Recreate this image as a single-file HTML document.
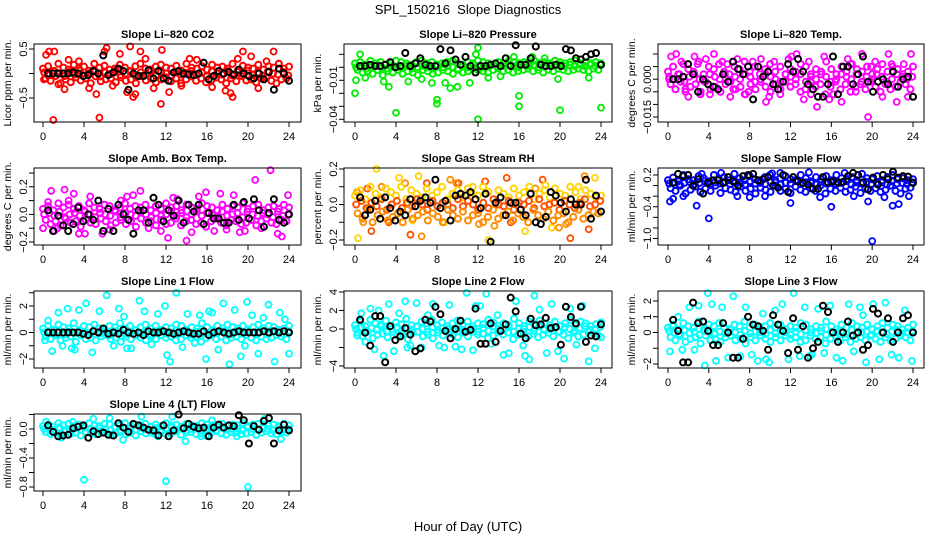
<!DOCTYPE html>
<html><head><meta charset="utf-8"><style>
html,body{margin:0;padding:0;background:#fff}
svg{display:block;font-family:"Liberation Sans",sans-serif}
</style></head><body>
<svg id="chart" width="936" height="540" viewBox="0 0 936 540" xmlns="http://www.w3.org/2000/svg">
<text x="468" y="14" font-size="13" text-anchor="middle">SPL_150216&#160; Slope Diagnostics</text>
<text x="468" y="531" font-size="13" text-anchor="middle">Hour of Day (UTC)</text>
</svg>
<script>
// ---------- DATA ----------
const xTicks = [0,4,8,12,16,20,24];

const co2Upper = [0.1,0.15,0.05,0.2,0.12,0.08,0.18,0.1,0.14,0.06,0.2,0.12,0.16,0.08,0.1,0.18,0.12,0.05,0.15,0.2,0.1,0.08,0.14,0.18,0.12,0.1,0.16,0.06,0.2,0.12,0.1,0.15,0.08,0.18,0.12,0.14,0.1,0.2,0.06,0.16,0.12,0.1,0.18,0.08,0.15,0.12,0.2,0.1,0.14];
const co2Mid = [0.02,-0.03,0.05,0,-0.05,0.03,-0.02,0.06,-0.04,0.01,0.04,-0.06,0.02,-0.01,0.05,-0.03,0,0.04,-0.05,0.02,-0.02,0.06,-0.04,0.03,0,-0.05,0.04,-0.02,0.01,0.05,-0.03,0.02,-0.06,0.04,0,-0.02,0.05,-0.04,0.03,-0.01,0.06,-0.03,0.02,-0.05,0.04,0,-0.02,0.03,-0.04];
const co2Lower = [-0.1,-0.15,-0.05,-0.2,-0.12,-0.18,-0.08,-0.14,-0.1,-0.2,-0.06,-0.16,-0.12,-0.1,-0.18,-0.08,-0.15,-0.12,-0.2,-0.05,-0.14,-0.1,-0.18,-0.12,-0.08,-0.16,-0.1,-0.2,-0.12,-0.06,-0.15,-0.1,-0.18,-0.14,-0.08,-0.12,-0.2,-0.1,-0.16,-0.05,-0.14,-0.12,-0.18,-0.1,-0.08,-0.15,-0.2,-0.12,-0.1];
const co2Black = [0,0,0,0,0,0.02,0,-0.05,-0.03,0.05,0,0.37,-0.03,0.02,0.1,0.05,-0.33,0,-0.05,-0.05,0.07,-0.1,0.05,-0.1,-0.15,0.02,0.05,0,-0.02,-0.03,0,0.22,-0.12,-0.05,0.05,0,0.03,-0.02,0.08,0,-0.05,-0.1,0,-0.12,0.03,-0.33,0.1,0,-0.15];
const co2OutH = [1,0.3,0.6,1.1,5.2,5.5,6.2,6,8.5,8.2,8.8,9,9.5,11.5,11.6,12.3,7.5,14.3,17.8,18.5,18.3,19.5,20.3,22.5,21,2.1,3.5,10,15,1.5,6.8,13.5,16.5,23,4.5,0.1,2.5,10.8,19,21.8];
const co2OutV = [-0.95,0.38,0.45,0.45,-0.42,-0.9,0.52,0.45,0.55,-0.38,-0.48,-0.42,0.45,-0.62,0.48,-0.38,0.4,0.3,-0.35,-0.48,-0.4,0.45,0.35,0.45,-0.3,-0.32,0.25,0.3,0.28,-0.22,-0.25,-0.25,-0.28,0.2,-0.3,-0.12,0.28,-0.3,0.3,0.25];

const presUpper = [0.003,0.004,0.002,0.005,0.003,0.004,0.002,0.003,0.005,0.004,0.003,0.002,0.004,0.005,0.003,0.004,0.002,0.003,0.004,0.005,0.003,0.002,0.004,0.003,0.005,0.004,0.003,0.002,0.004,0.003,0.005,0.004,0.003,0.004,0.002,0.005,0.003,0.004,0.003,0.005,0.004,0.003,0.004,0.005,0.003,0.004,0.003,0.004,0.003];
const presMid = [0,0.001,-0.001,0,0.001,0,-0.001,0.001,0,0,0.001,-0.001,0,0.001,0,-0.001,0.001,0,0.001,0,-0.001,0.001,0,0.002,0.001,0,0.001,0.002,0,0.001,0.002,0.001,0,0.002,0.001,0.002,0,0.001,0.002,0.001,0.002,0.001,0.002,0.001,0.002,0.001,0.002,0.001,0.002];
const presLower = [-0.002,-0.004,-0.003,-0.005,-0.002,-0.006,-0.003,-0.004,-0.002,-0.005,-0.003,-0.004,-0.006,-0.002,-0.003,-0.005,-0.004,-0.002,-0.003,-0.005,-0.002,-0.004,-0.003,-0.001,-0.002,-0.003,-0.004,-0.002,-0.001,-0.003,-0.002,-0.004,-0.003,-0.002,-0.001,-0.003,-0.002,-0.004,-0.002,-0.003,-0.001,-0.002,-0.003,-0.002,-0.001,-0.002,-0.003,-0.001,-0.002];
const presBlack = [0.001,0.001,0.002,0.001,0.001,0.002,0.004,0,0.001,0.011,0.001,0.003,0.007,0.002,0.001,0.001,0.014,0.003,0.013,0.006,0.002,0.008,0.001,-0.004,0.001,0.001,0.002,0.003,0.001,0.007,0.001,0.017,0.002,0.002,0.007,0.016,0.002,0.001,0.001,0.002,0.001,0.014,0.013,0.007,0.006,0.008,0.01,0.011,0.002];
const presOutH = [0,0.1,0.5,4,8,8,12,12,11.8,16,16,20,24,2.8,3.3,7.5,8.8,9.3,10,11.2,5.2,22.8,19.8,15.5,13,17.3,1,6.5,14.2,18.5];
const presOutV = [-0.02,-0.01,0.01,-0.035,-0.025,-0.028,-0.04,0.015,0.01,-0.022,-0.03,-0.033,-0.031,-0.011,-0.015,-0.012,-0.012,-0.016,-0.015,-0.012,-0.011,-0.008,-0.009,0.008,-0.008,0.008,-0.008,-0.009,-0.007,0.007];

const tempUpper = [0.003,0.005,0.002,0.006,0.004,0.003,0.007,0.002,0.005,0.004,0.006,0.003,0.002,0.005,0.004,0.007,0.003,0.005,0.002,0.004,0.006,0.003,0.005,0.002,0.004,0.003,0.006,0.005,0.002,0.004,0.003,0.007,0.004,0.002,0.005,0.003,0.006,0.004,0.003,0.005,0.002,0.004,0.006,0.003,0.005,0.004,0.002,0.003,0.005];
const tempMid = [0.001,0,0.002,-0.001,0.001,0.002,0,-0.001,0.002,0.001,0,0.002,-0.001,0.001,0,0.002,0.001,-0.001,0,0.002,0.001,0,-0.001,0.002,0.001,0,0.002,-0.001,0.001,0,0.002,0.001,-0.001,0,0.002,0.001,0,0.002,-0.001,0.001,0,0.002,0.001,-0.001,0,0.002,0.001,0,0.001];
const tempLower = [-0.002,-0.004,-0.001,-0.005,-0.003,-0.002,-0.006,-0.001,-0.004,-0.003,-0.005,-0.002,-0.001,-0.004,-0.003,-0.006,-0.002,-0.004,-0.001,-0.003,-0.005,-0.002,-0.004,-0.001,-0.003,-0.002,-0.005,-0.004,-0.001,-0.003,-0.002,-0.006,-0.003,-0.001,-0.004,-0.002,-0.005,-0.003,-0.002,-0.004,-0.001,-0.003,-0.005,-0.002,-0.004,-0.003,-0.001,-0.002,-0.004];
const tempBlack = [0,0,0.001,0.006,0.002,-0.005,0,-0.002,-0.003,-0.004,0.002,-0.001,0.007,0.004,0.002,0.005,-0.008,0.005,0.001,0.003,-0.002,-0.004,-0.001,0.006,0.003,0.008,0.003,-0.002,-0.004,-0.007,-0.007,-0.002,0.009,-0.006,0.005,0.005,-0.002,0.002,0.009,-0.001,-0.005,-0.001,0,-0.002,0.003,-0.003,0,0.001,-0.007];
const tempOutH = [0.3,0.8,1.3,2,2.6,3.2,3.7,4.5,5.3,6.1,6.8,7.5,8.3,9.1,9.6,10.4,11,11.8,12.6,13.3,14,14.6,15.3,16.2,17,17.6,18.4,19,19.6,20.3,21,21.6,22.4,23.1,23.8,0.1,1.7,4.1,5.8,7.9,9.9,12.1,13.8,15.8,17.9,19.9,21.9,23.5,2.9,6.4];
const tempOutV = [0.009,0.01,0.007,-0.007,0.009,-0.005,0.008,0.01,0.007,-0.007,0.008,-0.006,0.007,0.008,-0.009,0.007,-0.006,0.008,0.01,-0.008,-0.006,-0.011,0.009,-0.006,-0.009,0.008,-0.005,0.01,-0.015,0.007,-0.007,0.01,-0.009,0.006,0.01,0,-0.004,-0.006,0.006,-0.005,-0.007,0.009,0.007,-0.008,0.006,0.005,0.006,-0.007,0.006,-0.004];

const ambUpper = [0.04,0.06,0.03,0.08,0.05,0.07,0.04,0.06,0.03,0.08,0.05,0.04,0.07,0.06,0.03,0.05,0.08,0.04,0.06,0.05,0.07,0.03,0.06,0.04,0.08,0.05,0.06,0.03,0.07,0.05,0.04,0.08,0.06,0.05,0.03,0.07,0.04,0.06,0.05,0.08,0.04,0.06,0.07,0.03,0.05,0.06,0.04,0.07,0.05];
const ambMid = [0,0.01,-0.01,0.02,-0.02,0,0.01,-0.01,0.02,0,-0.02,0.01,0,-0.01,0.02,-0.02,0.01,0,-0.01,0.02,0,-0.02,0.01,-0.01,0,0.02,-0.01,0.01,-0.02,0,0.02,-0.01,0.01,0,-0.02,0.02,-0.01,0,0.01,-0.02,0.02,0,-0.01,0.01,0,-0.02,0.02,-0.01,0];
const ambLower = [-0.04,-0.07,-0.05,-0.08,-0.03,-0.06,-0.05,-0.09,-0.04,-0.06,-0.07,-0.03,-0.05,-0.08,-0.06,-0.04,-0.07,-0.05,-0.09,-0.03,-0.06,-0.05,-0.08,-0.04,-0.07,-0.06,-0.03,-0.08,-0.05,-0.04,-0.07,-0.06,-0.09,-0.05,-0.03,-0.06,-0.08,-0.04,-0.05,-0.07,-0.06,-0.04,-0.08,-0.05,-0.03,-0.06,-0.07,-0.04,-0.05];
const ambBlack = [0.03,-0.12,-0.01,-0.08,-0.12,-0.07,0.05,-0.05,0,-0.04,0.1,-0.12,0.04,-0.12,0.07,0,-0.04,-0.14,0.03,0.03,-0.06,0.12,0.07,-0.05,0.03,-0.01,0.1,-0.06,0.07,0.02,0.07,-0.07,0.01,-0.03,-0.03,-0.06,-0.06,0.07,-0.04,0.09,-0.03,0.11,0.03,-0.09,0.01,0.11,-0.04,-0.06,0];
const ambOutH = [0,0.5,0.8,1.1,2.1,2.5,3,3.5,4.6,5.8,7.6,8.2,8.8,9.5,10.3,11.5,12.2,12.7,14,14.5,15.2,15.9,16.7,17.3,17.9,18.6,19.2,20.7,21.3,22.2,22.9,23.3,23.9,1.4,6.5,13.1,19.7,4.1];
const ambOutV = [-0.1,0.09,0.17,-0.12,0.18,0.1,0.15,-0.14,0.13,-0.14,0.1,0.13,0.14,0.17,-0.1,-0.12,-0.17,0.12,-0.19,-0.13,0.13,0.16,-0.12,0.15,-0.11,0.14,-0.13,0.25,-0.1,0.32,-0.14,-0.16,0.14,-0.1,-0.11,0.11,-0.12,-0.14];

const rhUpper = [0.05,0.08,0.03,0.1,0.06,0.04,0.09,0.07,0.05,0.1,0.03,0.08,0.06,0.04,0.09,0.05,0.07,0.1,0.03,0.06,0.08,0.04,0.09,0.06,0.05,0.1,0.07,0.03,0.08,0.06,0.04,0.09,0.05,0.07,0.1,0.03,0.06,0.08,0.04,0.09,0.06,0.05,0.1,0.07,0.03,0.08,0.06,0.04,0.05];
const rhMid = [0,0.02,-0.02,0.01,-0.01,0.03,-0.03,0,0.02,-0.02,0.01,-0.01,0.03,0,-0.03,0.02,-0.01,0.01,0,-0.02,0.03,-0.01,0.02,0,-0.03,0.01,-0.02,0.03,0,-0.01,0.02,-0.03,0.01,0,0.02,-0.02,0.03,-0.01,0,0.01,-0.03,0.02,0,-0.02,0.01,0.03,-0.01,0,0.02];
const rhLower = [-0.05,-0.08,-0.03,-0.1,-0.06,-0.04,-0.09,-0.07,-0.05,-0.1,-0.03,-0.08,-0.06,-0.04,-0.09,-0.05,-0.07,-0.1,-0.03,-0.06,-0.08,-0.04,-0.09,-0.06,-0.05,-0.1,-0.07,-0.03,-0.08,-0.06,-0.04,-0.09,-0.05,-0.07,-0.1,-0.03,-0.06,-0.08,-0.04,-0.09,-0.06,-0.05,-0.1,-0.07,-0.03,-0.08,-0.06,-0.04,-0.05];
const rhBlack = [0.04,-0.06,-0.03,0.02,-0.08,0.04,-0.02,-0.09,-0.04,-0.06,0.03,-0.01,0.02,0.04,0.01,0.14,-0.02,0.02,-0.09,0.05,0.06,0.05,0.07,0.03,-0.02,0.06,-0.21,0.01,0.04,-0.06,0.01,0.01,-0.03,-0.06,0.06,-0.1,-0.11,-0.07,0.07,0.05,0.01,-0.04,0.03,0,0,0.14,-0.08,0.05,-0.04];
const rhOutH = [0.3,0.8,1.2,2.1,2.6,3.3,4.3,4.9,5.4,6.2,6.5,7,8.7,9.3,10.1,11.5,12.1,12.7,13,13.6,14.8,16.6,17.6,18.3,19.2,19.9,21,21.8,22.4,22.8,23.4,0.2,1.6,5.6,9.9,15.2,18.6,20.6];
const rhOutV = [-0.19,-0.1,0.09,0.2,0.1,-0.1,0.15,0.12,-0.17,0.16,-0.18,0.12,-0.1,0.14,0.12,0.1,-0.11,0.13,-0.2,-0.12,0.15,-0.15,0.09,0.14,-0.13,-0.13,-0.19,0.1,0.16,-0.14,0.15,0.07,-0.15,-0.09,0.12,-0.1,0.11,-0.11];

const flowUpper = [0.1,0.15,0.08,0.2,0.12,0.1,0.18,0.14,0.08,0.2,0.12,0.16,0.1,0.22,0.14,0.1,0.18,0.12,0.08,0.16,0.2,0.1,0.14,0.18,0.12,0.1,0.2,0.14,0.08,0.16,0.12,0.18,0.1,0.2,0.14,0.12,0.16,0.1,0.22,0.14,0.12,0.18,0.1,0.16,0.2,0.12,0.14,0.1,0.12];
const flowMid = [0.04,0.06,0.02,0.05,0.07,0.03,0.05,0.08,0.02,0.06,0.04,0.07,0.03,0.05,0.06,0.02,0.08,0.04,0.05,0.03,0.07,0.06,0.02,0.05,0.04,0.08,0.03,0.06,0.05,0.02,0.07,0.04,0.06,0.03,0.05,0.08,0.02,0.06,0.04,0.07,0.03,0.05,0.06,0.02,0.08,0.04,0.05,0.03,0.06];
const flowLower = [-0.05,-0.1,0,-0.15,-0.08,-0.02,-0.12,-0.06,-0.1,0,-0.14,-0.05,-0.08,-0.12,-0.02,-0.1,-0.06,-0.15,-0.04,-0.08,-0.12,0,-0.1,-0.06,-0.14,-0.02,-0.08,-0.12,-0.05,-0.1,0,-0.15,-0.06,-0.1,-0.04,-0.12,-0.08,-0.02,-0.14,-0.06,-0.1,-0.05,-0.12,-0.08,0,-0.1,-0.15,-0.06,-0.04];
const flowBlack = [0.05,0.22,0.18,0.2,0,0.12,-0.15,0.05,0.1,0.1,0.05,0.16,0.08,0,0.18,0.2,0.22,0.1,0.12,0.16,0,-0.04,0.2,-0.12,0.16,0.08,0.05,0.02,-0.06,-0.06,0.16,0.06,0.08,0.06,0.07,0.18,0.24,0.2,0.06,-0.07,0.15,0.02,0.2,0.12,0.26,0.15,0.18,0.17,0.05];
const flowOutH = [0.2,0.5,2.8,4,16,20,22,22.6,12,1.5,8,9.5,11,17.3,5.2,13.8,19.6,6.8,10.2,14.9,18.2,21.2,23.6,3.3];
const flowOutV = [-0.3,-0.25,-0.38,-0.62,-0.4,-1.05,-0.38,-0.35,-0.33,-0.2,-0.22,-0.2,0.24,0.24,0.24,0.25,-0.3,-0.2,0.23,-0.22,-0.2,-0.22,-0.2,0.22];

const l1Upper = [0.3,0.5,0.2,0.6,0.4,0.3,0.7,0.2,0.5,0.4,0.6,0.3,0.2,0.5,0.4,0.7,0.3,0.5,0.2,0.4,0.6,0.3,0.5,0.2,0.4,0.3,0.6,0.5,0.2,0.4,0.3,0.7,0.4,0.2,0.5,0.3,0.6,0.4,0.3,0.5,0.2,0.4,0.6,0.3,0.5,0.4,0.2,0.3,0.5];
const l1Mid = [0,0.1,-0.1,0.15,-0.15,0.05,-0.05,0.1,0,-0.1,0.15,-0.05,0.05,-0.15,0.1,0,-0.1,0.05,0.15,-0.05,0,-0.15,0.1,0.05,-0.1,0,0.15,-0.05,0.1,-0.15,0.05,0,-0.1,0.15,-0.05,0.1,0,-0.15,0.05,-0.1,0.15,0,-0.05,0.1,-0.15,0.05,0,-0.1,0.1];
const l1Lower = [-0.3,-0.5,-0.2,-0.6,-0.4,-0.3,-0.7,-0.2,-0.5,-0.4,-0.6,-0.3,-0.2,-0.5,-0.4,-0.7,-0.3,-0.5,-0.2,-0.4,-0.6,-0.3,-0.5,-0.2,-0.4,-0.3,-0.6,-0.5,-0.2,-0.4,-0.3,-0.7,-0.4,-0.2,-0.5,-0.3,-0.6,-0.4,-0.3,-0.5,-0.2,-0.4,-0.6,-0.3,-0.5,-0.4,-0.2,-0.3,-0.5];
const l1Black = [0,0,0,0,0,0,0,-0.1,-0.2,0.1,0,0.3,-0.1,0,-0.1,0.2,0,-0.1,0,-0.2,0.1,0,0,0.1,0,-0.1,0,0.1,0,-0.1,-0.1,0.1,-0.2,0,0.1,0,-0.1,0,0.1,0,0,0,0,0.1,0,0.1,0,0.1,0];
const l1OutH = [0.2,0.5,0.9,1.5,1.9,2.4,2.8,3.5,4.2,4.8,5.5,6.2,6.9,7.4,7.9,8.6,9.4,9.9,10.6,11.2,11.9,12.4,13,13.6,14.1,14.8,15.3,15.9,16.5,17.1,17.6,18.2,18.7,19.3,19.9,20.4,21,21.5,22,22.6,23.1,23.6,24,3.1,8.2,12.1,16.2,19.7];
const l1OutV = [-0.6,0.9,-1.4,1.5,-1,1.8,-1.2,1.7,2.2,-1.5,1.6,2.8,-1,1.8,1.2,-1.2,2.4,1.6,-0.9,1.4,2,-2.2,3,-1.1,1.4,-0.8,1.3,-2,1.5,-1.3,2.2,-2.4,1.7,-1.8,2.3,1.3,-1.6,1.1,2.1,-2.2,1.5,1,-1.6,-1.3,-1.2,-1.7,1.6,-1];

const l2Upper = [0.4,0.8,0.3,1,0.6,0.5,0.9,0.3,0.7,0.5,1.1,0.4,0.3,0.8,0.6,1,0.4,0.7,0.3,0.6,0.9,0.4,0.8,0.3,0.6,0.5,1,0.7,0.3,0.6,0.4,1.1,0.6,0.3,0.8,0.5,0.9,0.6,0.4,0.8,0.3,0.6,1,0.4,0.8,0.6,0.3,0.5,0.7];
const l2Mid = [0,0.2,-0.2,0.1,-0.1,0.3,-0.3,0,0.2,-0.2,0.1,-0.1,0.3,0,-0.3,0.2,-0.1,0.1,0,-0.2,0.3,-0.1,0.2,0,-0.3,0.1,-0.2,0.3,0,-0.1,0.2,-0.3,0.1,0,0.2,-0.2,0.3,-0.1,0,0.1,-0.3,0.2,0,-0.2,0.1,0.3,-0.1,0,0.2];
const l2Lower = [-0.4,-0.8,-0.3,-1,-0.6,-0.5,-0.9,-0.3,-0.7,-0.5,-1.1,-0.4,-0.3,-0.8,-0.6,-1,-0.4,-0.7,-0.3,-0.6,-0.9,-0.4,-0.8,-0.3,-0.6,-0.5,-1,-0.7,-0.3,-0.6,-0.4,-1.1,-0.6,-0.3,-0.8,-0.5,-0.9,-0.6,-0.4,-0.8,-0.3,-0.6,-1,-0.4,-0.8,-0.6,-0.3,-0.5,-0.7];
const l2Black = [1,-0.4,-1.8,1.4,1.4,-3.6,0.3,-1.2,-0.8,0.1,-0.6,-2.4,-2.1,1,0.8,2.4,1.6,-0.2,-1,0,0.9,-0.3,-0.1,2.2,-1.6,-1.6,0.6,-1.4,-0.2,0.5,3.4,1.9,-0.5,-1,1.1,0.4,0.5,1.2,0.1,0.2,-1.7,2.4,1.3,0.6,2.4,-1.4,-0.7,-0.8,0.5];
const l2OutH = [0.2,0.6,1,1.5,1.9,2.3,2.8,3.3,3.8,4.3,4.9,5.4,6,6.5,7.1,7.6,8.2,8.7,9.2,9.8,10.4,10.9,11.5,12.2,12.8,13.3,13.9,14.5,15,15.7,16.4,17,17.5,18,18.7,19.2,19.8,20.4,21,21.6,22.2,22.8,23.4,24,5.1,11.8,16.6];
const l2OutV = [-0.7,1.7,-1.4,2.2,-2.2,2,-2.9,2.7,-2.4,1.7,3,-1.8,2.8,-2,1.5,2.7,-1.8,-2,2.6,-1.9,-2.2,3.9,-2.3,2.5,3.8,-1.6,1.5,-2.8,-2.6,3,-1.8,-3.3,3.6,2.1,-2.6,2.7,-2.4,-3.2,2.2,-1.7,2.5,-3.5,-2.1,-0.9,-2,2.5,-2.9];

const l3Upper = [0.3,0.5,0.2,0.6,0.4,0.3,0.7,0.2,0.5,0.4,0.6,0.3,0.2,0.5,0.4,0.7,0.3,0.5,0.2,0.4,0.6,0.3,0.5,0.2,0.4,0.3,0.6,0.5,0.2,0.4,0.3,0.7,0.4,0.2,0.5,0.3,0.6,0.4,0.3,0.5,0.2,0.4,0.6,0.3,0.5,0.4,0.2,0.3,0.5];
const l3Mid = [0.1,0,-0.1,0.15,-0.05,0.05,-0.15,0.1,0,-0.1,0.05,-0.05,0.15,0,-0.15,0.1,-0.05,0.05,0,-0.1,0.15,-0.05,0.1,0,-0.15,0.05,-0.1,0.15,0,-0.05,0.1,-0.15,0.05,0,0.1,-0.1,0.15,-0.05,0,0.05,-0.15,0.1,0,-0.1,0.05,0.15,-0.05,0,0.1];
const l3Lower = [-0.3,-0.5,-0.2,-0.6,-0.4,-0.3,-0.7,-0.2,-0.5,-0.4,-0.6,-0.3,-0.2,-0.5,-0.4,-0.7,-0.3,-0.5,-0.2,-0.4,-0.6,-0.3,-0.5,-0.2,-0.4,-0.3,-0.6,-0.5,-0.2,-0.4,-0.3,-0.7,-0.4,-0.2,-0.5,-0.3,-0.6,-0.4,-0.3,-0.5,-0.2,-0.4,-0.6,-0.3,-0.5,-0.4,-0.2,-0.3,-0.5];
const l3Black = [0.8,0.1,-1.9,-1.9,1.9,0.6,0.7,0.1,-0.8,-0.8,0.6,0,-1.6,-1.6,-0.4,1,0.5,0.4,0.1,-1.1,1.1,0.5,0.1,-1.3,0.9,-1.1,0.4,-1.6,-1,-0.6,1.7,1.3,0,-0.6,0,0.7,-0.2,0,-1.1,-0.8,1.5,1.2,0,0.9,-0.6,0,0.9,1.1,0];
const l3OutH = [0.2,0.5,1,1.4,2.1,2.6,3,3.6,4.3,4.7,5.3,5.9,6.4,7.1,7.6,8.2,8.8,9.3,9.9,10.5,11.2,11.8,12.3,12.9,13.4,14.1,14.7,15.3,15.9,16.5,17.1,17.7,18.2,18.8,19.4,20.1,20.7,21.3,21.9,22.6,23.2,23.9,3.9,9.6,13.9,19.1];
const l3OutV = [-1.2,0.4,1,-1.1,1.6,-1.1,1.7,-2.1,1.8,-1.8,1.6,-1.6,2.3,-1.5,1.6,-1.4,-1.8,1.2,-1.9,1.4,1.8,-1.7,2.5,-1.5,1.6,-1.4,1.5,-1.3,1.7,-1.6,-1.8,1.8,-1.2,1.6,-1.9,1.8,-1.7,1.9,-1.4,-1.6,1.4,-1.8,2.5,-1.7,-1.5,1.1];

const l4Upper = [0.04,0.06,0.03,0.08,0.05,0.07,0.04,0.06,0.03,0.08,0.05,0.04,0.07,0.06,0.03,0.05,0.08,0.04,0.06,0.05,0.07,0.03,0.06,0.04,0.08,0.05,0.06,0.03,0.07,0.05,0.04,0.08,0.06,0.05,0.03,0.07,0.04,0.06,0.05,0.08,0.04,0.06,0.07,0.03,0.05,0.06,0.04,0.07,0.05];
const l4Mid = [0,0.01,-0.01,0.02,-0.02,0,0.01,-0.01,0.02,0,-0.02,0.01,0,-0.01,0.02,-0.02,0.01,0,-0.01,0.02,0,-0.02,0.01,-0.01,0,0.02,-0.01,0.01,-0.02,0,0.02,-0.01,0.01,0,-0.02,0.02,-0.01,0,0.01,-0.02,0.02,0,-0.01,0.01,0,-0.02,0.02,-0.01,0];
const l4Lower = [-0.04,-0.07,-0.05,-0.08,-0.03,-0.06,-0.05,-0.09,-0.04,-0.06,-0.07,-0.03,-0.05,-0.08,-0.06,-0.04,-0.07,-0.05,-0.09,-0.03,-0.06,-0.05,-0.08,-0.04,-0.07,-0.06,-0.03,-0.08,-0.05,-0.04,-0.07,-0.06,-0.09,-0.05,-0.03,-0.06,-0.08,-0.04,-0.05,-0.07,-0.06,-0.04,-0.08,-0.05,-0.03,-0.06,-0.07,-0.04,-0.05];
const l4Black = [0.05,-0.04,-0.1,-0.09,-0.08,0.01,0.03,0.05,-0.12,-0.03,-0.07,-0.05,-0.08,-0.09,0.08,0.02,-0.04,0.07,0.05,0.02,-0.01,-0.02,-0.09,0.05,-0.1,-0.02,0.2,0.01,0.07,0.03,0.01,0.02,-0.1,0.02,0.06,0.02,0.05,0.04,0.19,0.12,-0.2,0.04,-0.01,0.11,0.15,-0.2,-0.02,0.06,-0.02];
const l4OutH = [4,12,20,0.3,1.8,4.9,6.5,7.8,9.6,12.6,13.9,16.5,18.9,21.6,23.2,2.9,11.2,15.4];
const l4OutV = [-0.7,-0.72,-0.8,0.1,-0.12,0.14,0.15,-0.15,0.17,0.17,-0.17,0.12,-0.1,0.14,-0.14,0.1,-0.1,-0.1];

// ---------- LAYOUT ----------
const COLS = [{l:34,r:301,x0:43,x24:289},{l:344,r:612,x0:355,x24:601},{l:658,r:924,x0:668,x24:913}];
const ROWS = [{t:44,b:122},{t:168,b:245},{t:291,b:368},{t:414,b:491}];

const panels = [
 {id:'co2',title:'Slope Li\u2013820 CO2',ylab:'Licor ppm per min.',c:0,r:0,colors:['#ff0000','#ff0000','#ff0000'],up:co2Upper,mid:co2Mid,lo:co2Lower,blk:co2Black,oh:co2OutH,ov:co2OutV,ref:[0.5,49,-0.5,98],ticks:[0.5,0,-0.5],labels:{'0.5':'0.5','-0.5':'\u22120.5'}},
 {id:'pressure',title:'Slope Li\u2013820 Pressure',ylab:'kPa per min.',c:1,r:0,colors:['#00ee00','#00ee00','#00ee00'],up:presUpper,mid:presMid,lo:presLower,blk:presBlack,oh:presOutH,ov:presOutV,ref:[0.01,54.3,-0.04,119.3],ticks:[0.01,0,-0.01,-0.02,-0.03,-0.04],labels:{'-0.01':'\u22120.01','-0.04':'\u22120.04'}},
 {id:'li820-temp',title:'Slope Li\u2013820 Temp.',ylab:'degrees C per min.',c:2,r:0,colors:['#ff00ff','#ff00ff','#ff00ff'],up:tempUpper,mid:tempMid,lo:tempLower,blk:tempBlack,oh:tempOutH,ov:tempOutV,ref:[0.01,54,-0.015,117],ticks:[0.01,0.005,0,-0.005,-0.01,-0.015],labels:{'0':'0.000','-0.015':'\u22120.015'}},
 {id:'amb-box-temp',title:'Slope Amb. Box Temp.',ylab:'degrees C per min.',c:0,r:1,colors:['#ff00ff','#ff00ff','#ff00ff'],up:ambUpper,mid:ambMid,lo:ambLower,blk:ambBlack,oh:ambOutH,ov:ambOutV,ref:[0.3,173,-0.2,242],ticks:[0.3,0.2,0.1,0,-0.1,-0.2],labels:{'0.2':'0.2','0':'0.0','-0.2':'\u22120.2'}},
 {id:'gas-stream-rh',title:'Slope Gas Stream RH',ylab:'percent per min.',c:1,r:1,colors:['#ffd400','#ff8c00','#ff5000'],up:rhUpper,mid:rhMid,lo:rhLower,blk:rhBlack,oh:rhOutH,ov:rhOutV,ref:[0.2,169,-0.2,240],ticks:[0.2,0.1,0,-0.1,-0.2],labels:{'0.2':'0.2','0':'0.0','-0.2':'\u22120.2'}},
 {id:'sample-flow',title:'Slope Sample Flow',ylab:'ml/min per min.',c:2,r:1,colors:['#0000ff','#0000ff','#0000ff'],up:flowUpper,mid:flowMid,lo:flowLower,blk:flowBlack,oh:flowOutH,ov:flowOutV,ref:[0.2,175,-1.0,238.5],ticks:[0.2,0,-0.2,-0.4,-0.6,-0.8,-1.0],labels:{'0.2':'0.2','-0.4':'\u22120.4','-1':'\u22121.0'}},
 {id:'line1-flow',title:'Slope Line 1 Flow',ylab:'ml/min per min.',c:0,r:2,colors:['#00ffff','#00ffff','#00ffff'],up:l1Upper,mid:l1Mid,lo:l1Lower,blk:l1Black,oh:l1OutH,ov:l1OutV,ref:[2,306,-2,359],ticks:[3,2,1,0,-1,-2],labels:{'2':'2','0':'0','-2':'\u22122'}},
 {id:'line2-flow',title:'Slope Line 2 Flow',ylab:'ml/min per min.',c:1,r:2,colors:['#00ffff','#00ffff','#00ffff'],up:l2Upper,mid:l2Mid,lo:l2Lower,blk:l2Black,oh:l2OutH,ov:l2OutV,ref:[4,292,-4,366],ticks:[4,2,0,-2,-4],labels:{'4':'4','2':'2','0':'0','-4':'\u22124'}},
 {id:'line3-flow',title:'Slope Line 3 Flow',ylab:'ml/min per min.',c:2,r:2,colors:['#00ffff','#00ffff','#00ffff'],up:l3Upper,mid:l3Mid,lo:l3Lower,blk:l3Black,oh:l3OutH,ov:l3OutV,ref:[2,301,-2,364],ticks:[2,1,0,-1,-2],labels:{'2':'2','1':'1','0':'0','-2':'\u22122'}},
 {id:'line4-flow',title:'Slope Line 4 (LT) Flow',ylab:'ml/min per min.',c:0,r:3,colors:['#00ffff','#00ffff','#00ffff'],up:l4Upper,mid:l4Mid,lo:l4Lower,blk:l4Black,oh:l4OutH,ov:l4OutV,ref:[0.2,414.5,-0.8,487],ticks:[0.2,0,-0.2,-0.4,-0.6,-0.8],labels:{'0':'0.0','-0.4':'\u22120.4','-0.8':'\u22120.8'}}
];

const NS='http://www.w3.org/2000/svg';
const svg=document.getElementById('chart');
function mk(tag,attrs,parent){const e=document.createElementNS(NS,tag);for(const k in attrs)e.setAttribute(k,attrs[k]);parent.appendChild(e);return e;}

panels.forEach(p=>{
  const C=COLS[p.c],R=ROWS[p.r];
  const xs=h=>C.x0+(C.x24-C.x0)*h/24;
  const ys=v=>p.ref[1]+(v-p.ref[0])*(p.ref[3]-p.ref[1])/(p.ref[2]-p.ref[0]);
  const g=mk('g',{},svg);
  
  
  const t=mk('text',{x:(C.l+C.r)/2,y:R.t-6,'font-size':11,'font-weight':'bold','text-anchor':'middle'},g);
  t.textContent=p.title;
  
  
  const yl=mk('text',{x:0,y:0,'font-size':10.5,'text-anchor':'middle',transform:`translate(${C.l-23},${(R.t+R.b)/2}) rotate(-90)`},g);
  yl.textContent=p.ylab;
  
  
  const pts=mk('g',{fill:'none'},g);
  
  
  const dot=(h,v,col,w,name)=>{
    const c=mk('circle',{cx:xs(h).toFixed(1),cy:ys(v).toFixed(1),r:3,stroke:col,'stroke-width':w},pts);
    
    
  };
  p.oh.forEach((h,i)=>dot(h,p.ov[i],p.colors[i%3],1.8,'outlier-point'));
  p.up.forEach((v,i)=>dot(i*24/(p.up.length-1),v,p.colors[0],2,'upper-point'));
  p.mid.forEach((v,i)=>dot(0.12+i*23.8/(p.mid.length-1),v,p.colors[2],2,'mid-point'));
  p.lo.forEach((v,i)=>dot(0.25+i*23.5/(p.lo.length-1),v,p.colors[1],2,'lower-point'));
  p.blk.forEach((v,i)=>dot(0.5+i*23.5/(p.blk.length-1),v,'#000',2,'black-point'));
  const bx=mk('rect',{x:C.l,y:R.t,width:C.r-C.l,height:R.b-R.t,fill:'none',stroke:'#000','stroke-width':1},g);
  
  
  xTicks.forEach(h=>{
    const x=xs(h);
    mk('line',{x1:x,x2:x,y1:R.b,y2:R.b+5,stroke:'#000'},g);
    const tl=mk('text',{x:x,y:R.b+18,'font-size':11,'text-anchor':'middle'},g);
    tl.textContent=String(h);
    
    
  });
  p.ticks.forEach(v=>{
    const y=ys(v);
    mk('line',{x1:C.l-5,x2:C.l,y1:y,y2:y,stroke:'#000'},g);
    const lab=p.labels[String(v)];
    if(lab){
      const tl=mk('text',{x:0,y:0,'font-size':11,'text-anchor':'middle',transform:`translate(${C.l-7},${y}) rotate(-90)`},g);
      tl.textContent=lab;
      
      
    }
  });
});
</script>
</body></html>
